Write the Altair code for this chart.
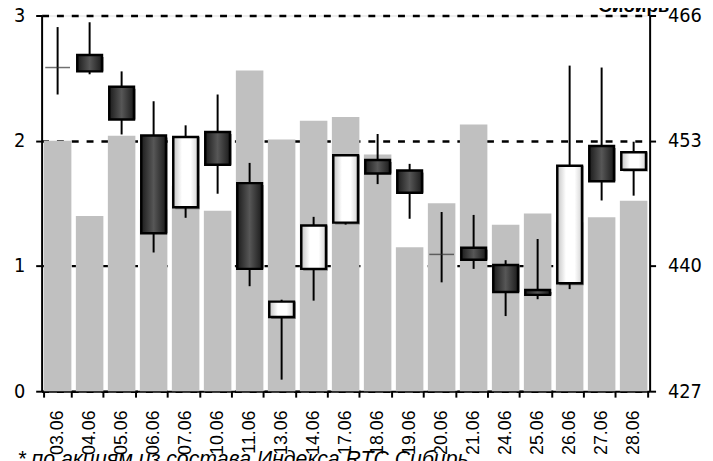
import altair as alt
import pandas as pd

dates = ["03.06", "04.06", "05.06", "06.06", "07.06", "10.06", "11.06", "13.06", "14.06", "17.06",
         "18.06", "19.06", "20.06", "21.06", "24.06", "25.06", "26.06", "27.06", "28.06"]
volume = [2.00, 1.40, 2.04, 1.45, 1.64, 1.44, 2.56, 2.01, 2.16, 2.19,
          1.89, 1.15, 1.50, 2.13, 1.33, 1.42, 1.35, 1.39, 1.52]
open_ = [460.6, 461.9, 458.6, 453.55, 446.1, 453.9, 448.6, 434.7, 439.7, 444.5,
         451.0, 449.9, 441.2, 441.9, 440.1, 437.5, 438.2, 452.45, 450.0]
high = [464.8, 465.3, 460.2, 457.1, 454.6, 457.8, 450.7, 436.5, 445.1, 451.5,
        453.7, 450.6, 445.6, 445.3, 440.6, 442.8, 460.8, 460.6, 452.9]
low = [457.8, 459.9, 453.65, 441.4, 445.0, 447.5, 437.9, 428.2, 436.4, 444.3,
       448.5, 444.9, 438.3, 439.7, 434.8, 436.55, 437.6, 446.8, 447.3]
close = [460.6, 460.2, 455.2, 443.4, 453.4, 450.5, 439.7, 436.3, 444.2, 451.5,
         449.6, 447.6, 441.2, 440.65, 437.3, 437.0, 450.4, 448.8, 451.8]

left_ticks = [0, 1, 2, 3]
right_ticks = [427, 440, 453, 466]
footnote = "* по акциям из состава Индекса RTC Сибирь"
title_text = "Сибирь"

kind = []
for o, c in zip(open_, close):
    if o == c:
        kind.append("doji")
    elif c > o:
        kind.append("up")
    else:
        kind.append("down")

df = pd.DataFrame({"date": dates, "volume": volume, "open": open_, "high": high,
                   "low": low, "close": close, "kind": kind})

x_enc = alt.X(
    "date:N", sort=dates,
    scale=alt.Scale(paddingInner=0.14, paddingOuter=0.07),
    axis=alt.Axis(
        title=footnote, titleFont="Liberation Sans", titleFontStyle="italic",
        titleFontWeight="normal", titleFontSize=21.5, titleColor="black",
        titleAlign="left", titleAnchor="start", titleX=-25, titleY=75,
        titleBaseline="alphabetic",
        labelAngle=270, labelFont="Liberation Sans", labelFontSize=18,
        labelColor="black", labelPadding=13,
        tickBand="extent", tickColor="black", tickWidth=2, tickSize=6,
        domainColor="black", domainWidth=2,
    ),
)

left_axis = alt.Axis(
    orient="left", values=left_ticks, title=None, format="d",
    grid=True, gridColor="black", gridDash=[7, 8], gridWidth=2.5,
    domainColor="black", domainWidth=2, tickColor="black", tickWidth=2, tickSize=6,
    labelFont="DejaVu Sans Condensed", labelFontSize=20, labelColor="black", labelPadding=11,
)
right_axis = alt.Axis(
    orient="right", values=right_ticks, title=None, format="d", grid=False,
    domainColor="black", domainWidth=2, tickColor="black", tickWidth=2, tickSize=6,
    labelFont="DejaVu Sans Condensed", labelFontSize=20, labelColor="black", labelPadding=12,
)
right_scale = alt.Scale(domain=[427, 466], nice=False, zero=False)

bars = alt.Chart(df).mark_bar(color="#c0c0c0").encode(
    x=x_enc,
    y=alt.Y("volume:Q", scale=alt.Scale(domain=[0, 3], nice=False), axis=left_axis),
)

base = alt.Chart(df).encode(x=x_enc)

wick = base.mark_rule(color="black", strokeWidth=2).encode(
    y=alt.Y("low:Q", scale=right_scale, axis=right_axis),
    y2="high:Q",
)

dark_grad = alt.Gradient(
    gradient="linear", x1=0, x2=1, y1=0, y2=0,
    stops=[alt.GradientStop(color="#1c1c1c", offset=0),
           alt.GradientStop(color="#575757", offset=0.5),
           alt.GradientStop(color="#1c1c1c", offset=1)],
)
light_grad = alt.Gradient(
    gradient="linear", x1=0, x2=1, y1=0, y2=0,
    stops=[alt.GradientStop(color="#c4c4c4", offset=0),
           alt.GradientStop(color="#ffffff", offset=0.35),
           alt.GradientStop(color="#ffffff", offset=0.7),
           alt.GradientStop(color="#d4d4d4", offset=1)],
)

shadow = base.mark_bar(size=25, color="#000000", opacity=0.35, xOffset=2, yOffset=2).encode(
    y=alt.Y("open:Q", scale=right_scale, axis=right_axis),
    y2="close:Q",
).transform_filter(alt.datum.kind != "doji")

body_down = base.mark_bar(size=25, fill=dark_grad, stroke="black", strokeWidth=2.5).encode(
    y=alt.Y("open:Q", scale=right_scale, axis=right_axis),
    y2="close:Q",
).transform_filter(alt.datum.kind == "down")

body_up = base.mark_bar(size=25, fill=light_grad, stroke="black", strokeWidth=2.5).encode(
    y=alt.Y("open:Q", scale=right_scale, axis=right_axis),
    y2="close:Q",
).transform_filter(alt.datum.kind == "up")

doji = base.mark_tick(size=25, thickness=1.5, color="#333333").encode(
    y=alt.Y("open:Q", scale=right_scale, axis=right_axis),
).transform_filter(alt.datum.kind == "doji")

candles = alt.layer(wick, shadow, body_down, body_up, doji)

chart = alt.layer(bars, candles).resolve_scale(y="independent").properties(
    width=615, height=380,
    title=alt.Title(title_text, anchor="end", frame="group", font="Liberation Sans",
                    fontSize=19, fontWeight="bold", color="black", offset=0, dx=20, dy=10),
    autosize=alt.AutoSizeParams(type="none"),
    padding={"left": 34, "top": 5, "right": 56, "bottom": 68},
).configure_view(stroke=None).configure(background="white")

chart.save("out.html", embed_options={"renderer": "svg", "actions": False})
